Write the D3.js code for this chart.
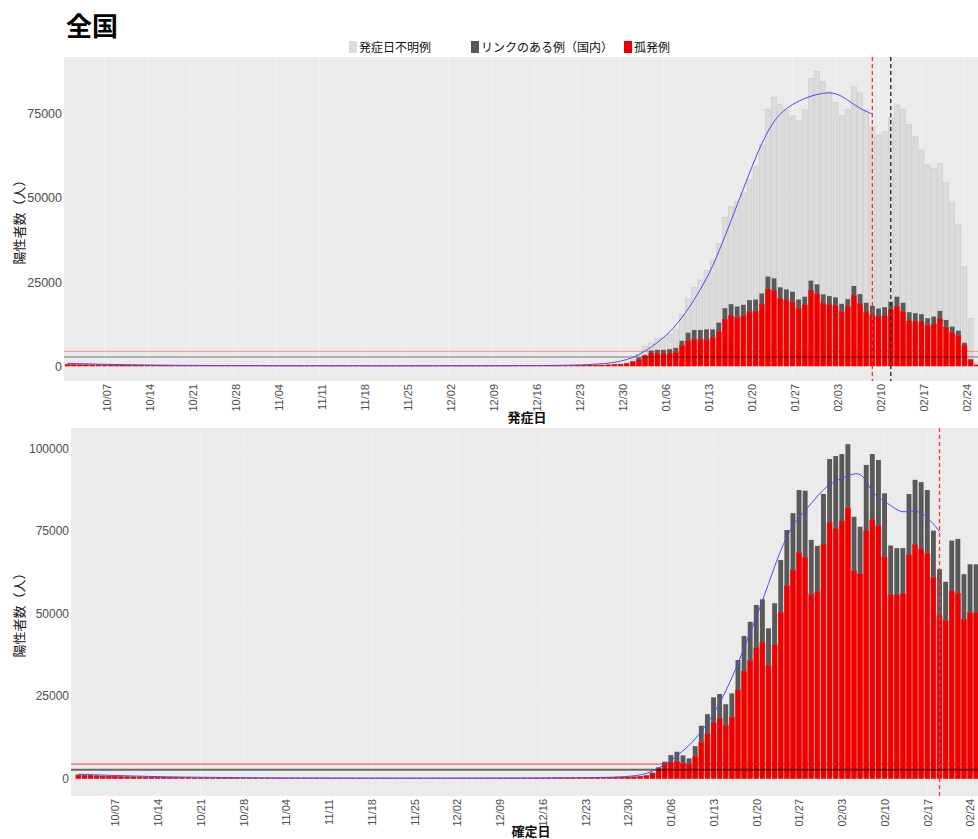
<!DOCTYPE html>
<html>
<head>
<meta charset="utf-8">
<script src="https://cdn.jsdelivr.net/npm/d3@7"></script>
<style>
  body { margin: 0; background: #fff; }
  svg text { font-family: "Liberation Sans", Arial, sans-serif; }
  .jp { font-family: "Noto Sans CJK JP", "Noto Sans CJK SC", sans-serif; }
</style>
</head>
<body>
<svg id="chart" width="978" height="839"></svg>
<script>
// ---- data: cases by onset date (2021-10-01 .. 2022-02-26) ----
const onsetStart = "2021-10-01";
const onsetIsolated = [
  420,380,350,330,310,290,270,250,240,225, 210,195,185,175,165,150,140,135,125,120, 110,105,100,95,90,85,80,80,75,70,70,
  65,60,60,55,55,50,50,50,45,45, 45,45,40,40,40,40,40,40,40,40, 40,40,40,45,45,45,45,45,50,50,
  50,50,50,55,55,55,60,60,60,65, 65,70,70,75,80,85,90,95,100,110, 120,130,140,160,180,200,240,300,380,480,650,
  1200,1900,2800,3800,3800,3600,3800,4000,6100,7400, 7900,7900,7900,8400,10200,13900,14900,14400,14900,16200,
  16200,18400,22800,22400,20100,19600,19000,17100,18200,22400, 21400,
  18700,18200,17900,16100,17700,21000,18500,16100,15100,14700, 14900,16700,17700,16100,13400,13200,13100,12000,12500,14000,
  11500,9900,9100,6100,1800,300
];
const onsetLinked = [
  50,45,42,40,38,35,33,30,28,26, 24,22,21,20,19,18,17,16,15,14, 13,12,12,11,11,10,10,9,9,8,8,
  8,8,7,7,7,7,6,6,6,6, 6,6,6,6,5,5,5,5,5,5, 5,5,5,5,6,6,6,6,6,6,
  6,6,6,7,7,7,7,8,8,8, 8,9,9,10,10,11,12,13,14,15, 16,18,20,22,25,30,35,45,55,70,90,
  200,600,500,800,1000,1200,1200,1400,1400,2500, 2800,2800,3000,2500,2700,3300,3500,3300,3300,3400,
  3600,3200,3800,3700,3300,3200,3100,2700,2400,3000, 2900,
  2600,2600,2500,2400,2200,2800,2900,2700,2800,2400, 2600,2400,2900,2700,2600,2500,2300,2200,2200,2400,
  2200,1800,1400,800,200,0
];
const onsetUnknown = [
  120,110,100,95,90,85,80,75,70,65, 60,55,52,50,47,44,41,38,36,34, 32,30,28,26,25,24,22,21,20,19,18,
  17,16,16,15,15,14,14,13,13,13, 12,12,12,12,12,12,12,12,12,12, 12,12,12,13,13,13,13,14,14,14,
  15,15,15,16,16,16,17,17,18,18, 19,20,21,22,24,26,28,30,32,35, 40,45,50,60,70,90,110,140,180,240,320,
  600,1000,2500,2300,3400,3700,4500,5500,7800,10100, 12600,14900,17500,20600,23600,27100,29000,31200,33200,35800,
  39500,44200,49800,53900,54500,53400,52300,53100,55600,60200, 63300,
  63300,60800,58000,56000,56500,59300,59900,57400,53500,51650, 52200,54900,57100,57600,55900,52600,48900,45600,44100,43900,
  40900,36900,31700,22700,12200,700
];
const onsetTrendDates = [
  "2021-10-01","2021-10-07","2021-10-14","2021-10-21","2021-10-31","2021-11-15","2021-12-01","2021-12-15",
  "2021-12-20","2021-12-24","2021-12-27","2021-12-29","2021-12-31","2022-01-02","2022-01-04","2022-01-06",
  "2022-01-08","2022-01-10","2022-01-12","2022-01-14","2022-01-16","2022-01-18","2022-01-20","2022-01-22",
  "2022-01-24","2022-01-26","2022-01-28","2022-01-30","2022-02-01","2022-02-03","2022-02-05","2022-02-07","2022-02-09"
];
const onsetTrendValues = [
  800,480,280,170,110,80,80,120,
  170,320,650,1050,1800,3300,5600,8300,
  12000,16800,22600,29500,38500,48000,57500,66500,
  73300,76800,78900,80400,81300,81400,79200,76500,75000
];

// ---- data: cases by confirmation date (2021-10-01 .. 2022-02-25) ----
const confirmStart = "2021-10-01";
const confirmIsolated = [
  900,850,780,720,650,600,560,520,480,450, 420,390,360,340,320,300,280,260,240,220, 200,190,180,170,160,150,140,130,125,120,115,
  110,105,100,95,95,90,90,85,85,80, 80,80,75,75,75,70,70,70,70,70, 70,70,70,70,75,75,75,80,80,80,
  85,85,90,90,95,95,100,100,105,110, 110,115,120,125,130,140,150,160,170,180, 190,200,220,240,260,280,300,330,360,400,450,
  550,750,1600,3100,4400,4700,5100,4600,4100,6600, 10900,13500,16900,18200,16000,18500,26800,32400,35700,39600,
  41300,34100,40500,50300,58400,63000,68400,66900,55800,56600, 71000,
  77600,75600,78000,81800,62900,62000,75000,78300,76500,67000, 55600,55600,55900,67800,70800,69500,68200,60900,49200,47800,
  56800,56100,48200,50200,50200
];
const confirmLinked = [
  300,280,260,240,220,200,185,170,160,150, 140,130,120,112,105,98,92,86,80,74, 68,64,60,56,53,50,47,44,42,40,38,
  36,35,33,32,31,30,29,28,27,26, 26,25,25,24,24,23,23,23,22,22, 22,22,22,22,23,23,23,24,24,24,
  25,25,26,26,27,27,28,28,29,30, 30,31,32,33,35,37,40,42,45,48, 50,53,57,62,67,72,78,85,95,105,120,
  150,250,200,300,700,2400,3000,2400,2000,3200, 5100,6000,7700,7400,6500,7300,9100,10800,11800,13000,
  13000,11400,12600,15900,16900,17400,19000,20300,16500,13900, 15200,
  19200,22100,20300,19500,16400,14300,20000,20000,20000,19400, 15000,14200,13900,18400,19700,20300,19200,14200,14200,11800,
  15300,16500,13700,14700,14700
];
const confirmTrendDates = [
  "2021-10-01","2021-10-07","2021-10-14","2021-10-21","2021-11-01","2021-11-15","2021-12-01","2021-12-15",
  "2021-12-24","2021-12-28","2021-12-31","2022-01-02","2022-01-04","2022-01-06","2022-01-08","2022-01-10",
  "2022-01-12","2022-01-14","2022-01-16","2022-01-18","2022-01-20","2022-01-22","2022-01-24","2022-01-26",
  "2022-01-28","2022-01-30","2022-02-01","2022-02-03","2022-02-05","2022-02-06","2022-02-07","2022-02-08",
  "2022-02-10","2022-02-12","2022-02-13","2022-02-15","2022-02-17","2022-02-19"
];
const confirmTrendValues = [
  1300,900,560,350,200,140,120,150,
  250,400,750,1400,3000,5300,8300,11800,
  16600,22600,30300,39500,48700,59000,69500,77300,
  81000,85700,89300,91000,92500,92300,90500,86300,
  84000,81400,80500,81500,79500,74800
];

// ---- axes, reference levels, markers ----
const tickDates = [
  "2021-10-07","2021-10-14","2021-10-21","2021-10-28","2021-11-04","2021-11-11","2021-11-18","2021-11-25",
  "2021-12-02","2021-12-09","2021-12-16","2021-12-23","2021-12-30","2022-01-06","2022-01-13","2022-01-20",
  "2022-01-27","2022-02-03","2022-02-10","2022-02-17","2022-02-24"
];
const tickLabels = [
  "10/07","10/14","10/21","10/28","11/04","11/11","11/18","11/25","12/02","12/09","12/16","12/23",
  "12/30","01/06","01/13","01/20","01/27","02/03","02/10","02/17","02/24"
];
const onsetYTicks = [0, 25000, 50000, 75000];
const confirmYTicks = [0, 25000, 50000, 75000, 100000];
const refLevels = [4350, 2680];           // red level, grey level
const onsetMarkers = [{date: "2022-02-09", color: "#ff3030"}, {date: "2022-02-12", color: "#222222"}];
const confirmMarkers = [{date: "2022-02-19", color: "#ff3030"}];
const legendItems = [
  {label: "発症日不明例", color: "#dcdcdc"},
  {label: "リンクのある例（国内）", color: "#595959"},
  {label: "孤発例", color: "#ee0000"}
];

// ---- helpers ----
const parse = d3.utcParse("%Y-%m-%d");
const origin = parse("2021-10-07");
const dayIdx = s => d3.utcDay.count(origin, parse(s));

const svg = d3.select("#chart");
svg.append("rect").attr("width", 978).attr("height", 839).attr("fill", "#ffffff");

svg.append("text").attr("class", "jp").attr("x", 66).attr("y", 36)
  .attr("font-size", 26).attr("font-weight", "bold").attr("fill", "#000").text("全国");

// legend
const legendX = [349, 471, 624];
const lg = svg.append("g");
legendItems.forEach((it, i) => {
  lg.append("rect").attr("x", legendX[i]).attr("y", 41).attr("width", 8).attr("height", 12)
    .attr("fill", it.color);
  lg.append("text").attr("class", "jp").attr("x", legendX[i] + 10).attr("y", 51.5)
    .attr("font-size", 12).attr("fill", "#111").text(it.label);
});

function drawPanel(cfg) {
  const {left, right, top, bottom, xDomain, yDomain, rows, keys, colors, strokes,
         yTicks, trendDates, trendValues, markers, labelShift, xTitle, xTitleX, xTitleY,
         yFont, refWidths} = cfg;
  const x = d3.scaleLinear().domain(xDomain).range([left, right]);
  const y = d3.scaleLinear().domain(yDomain).range([bottom, top]);
  const g = svg.append("g");

  const clipId = "clip" + top;
  svg.append("clipPath").attr("id", clipId).append("rect")
    .attr("x", left).attr("y", top).attr("width", right - left).attr("height", bottom - top);

  g.append("rect").attr("x", left).attr("y", top).attr("width", right - left)
    .attr("height", bottom - top).attr("fill", "#ebebeb");

  const plot = g.append("g").attr("clip-path", `url(#${clipId})`);
  const tickIdx = tickDates.map(dayIdx);

  // grid
  plot.selectAll("line.gx").data(tickIdx).join("line")
    .attr("x1", d => x(d)).attr("x2", d => x(d)).attr("y1", top).attr("y2", bottom)
    .attr("stroke", "#f4f4f4").attr("stroke-width", 0.6);
  plot.selectAll("line.gy").data(yTicks).join("line")
    .attr("x1", left).attr("x2", right).attr("y1", d => y(d)).attr("y2", d => y(d))
    .attr("stroke", "#f4f4f4").attr("stroke-width", 0.6);

  // stacked bars
  const series = d3.stack().keys(keys)(rows);
  const bw = (x(1) - x(0)) * 0.8;
  const order = keys.map((k, i) => i).reverse();
  order.forEach(i => {
    const s = series[i];
    plot.append("g").selectAll("rect").data(s).join("rect")
      .attr("x", d => x(d.data.d) - bw / 2)
      .attr("width", bw)
      .attr("y", d => y(d[1]))
      .attr("height", d => Math.max(0, y(d[0]) - y(d[1])))
      .attr("fill", colors[i])
      .attr("stroke", strokes[i])
      .attr("stroke-width", strokes[i] === "none" ? 0 : 0.6);
  });

  // reference levels
  plot.append("line").attr("x1", left).attr("x2", right)
    .attr("y1", y(refLevels[0])).attr("y2", y(refLevels[0]))
    .attr("stroke", "rgba(255,0,0,0.45)").attr("stroke-width", refWidths[0]);
  plot.append("line").attr("x1", left).attr("x2", right)
    .attr("y1", y(refLevels[1])).attr("y2", y(refLevels[1]))
    .attr("stroke", "rgba(0,0,0,0.55)").attr("stroke-width", refWidths[1]);

  // smoothed trend
  const pts = trendDates.map((dt, i) => [dayIdx(dt), trendValues[i]]);
  plot.append("path").datum(pts)
    .attr("d", d3.line().x(p => x(p[0])).y(p => y(p[1])).curve(d3.curveBasis))
    .attr("fill", "none").attr("stroke", "#4a4af0").attr("stroke-width", 1);

  // markers
  markers.forEach(m => {
    plot.append("line").attr("x1", x(dayIdx(m.date))).attr("x2", x(dayIdx(m.date)))
      .attr("y1", top).attr("y2", bottom)
      .attr("stroke", m.color).attr("stroke-width", 1.3).attr("stroke-dasharray", "4,3");
  });

  // y axis
  const ya = g.append("g").attr("transform", `translate(${left},0)`)
    .call(d3.axisLeft(y).tickValues(yTicks).tickSize(0).tickPadding(2).tickFormat(d3.format("d")));
  ya.select(".domain").remove();
  ya.selectAll("text").attr("fill", "#4d4d4d").attr("font-size", yFont)
    .style("font-family", "'Liberation Sans', Arial, sans-serif");

  // x axis
  const xa = g.append("g").attr("transform", `translate(0,${bottom})`)
    .call(d3.axisBottom(x).tickValues(tickIdx).tickSize(0).tickFormat((d, i) => tickLabels[i]));
  xa.select(".domain").remove();
  xa.selectAll("text")
    .attr("transform", "rotate(-90)")
    .attr("x", -3).attr("y", labelShift).attr("dy", "0.35em")
    .style("text-anchor", "end")
    .attr("fill", "#4d4d4d").attr("font-size", 11)
    .style("font-family", "'Liberation Sans', Arial, sans-serif");

  // titles
  g.append("text").attr("class", "jp").attr("x", xTitleX).attr("y", xTitleY)
    .attr("text-anchor", "middle").attr("font-size", 13).attr("font-weight", "bold")
    .attr("fill", "#111").text(xTitle);
  g.append("text").attr("class", "jp")
    .attr("transform", `translate(24,${(top + bottom) / 2}) rotate(-90)`)
    .attr("text-anchor", "middle").attr("font-size", 13)
    .attr("fill", "#1a1a1a").text("陽性者数（人）");
}

const onsetRows = onsetIsolated.map((v, i) => ({
  d: dayIdx(onsetStart) + i, isolated: v, linked: onsetLinked[i], unknown: onsetUnknown[i]
}));
const confirmRows = confirmIsolated.map((v, i) => ({
  d: dayIdx(confirmStart) + i, isolated: v, linked: confirmLinked[i]
}));

drawPanel({
  left: 64, right: 978, top: 57, bottom: 381,
  xDomain: [-6.6, 142.2], yDomain: [-4464, 91964],
  rows: onsetRows, keys: ["isolated", "linked", "unknown"],
  colors: ["#ee0000", "#595959", "#dcdcdc"], strokes: ["#ee0000", "none", "#c8c8c8"],
  yTicks: onsetYTicks, trendDates: onsetTrendDates, trendValues: onsetTrendValues,
  markers: onsetMarkers, labelShift: 2.5, xTitle: "発症日", xTitleX: 527, xTitleY: 422,
  yFont: 12.5, refWidths: [0.8, 0.9]
});

drawPanel({
  left: 71, right: 978, top: 428, bottom: 796,
  xDomain: [-7.2, 141.3], yDomain: [-5300, 106200],
  rows: confirmRows, keys: ["isolated", "linked"],
  colors: ["#ee0000", "#595959"], strokes: ["#ee0000", "none"],
  yTicks: confirmYTicks, trendDates: confirmTrendDates, trendValues: confirmTrendValues,
  markers: confirmMarkers, labelShift: 0, xTitle: "確定日", xTitleX: 531, xTitleY: 836,
  yFont: 12, refWidths: [1.6, 2]
});
</script>
</body>
</html>
